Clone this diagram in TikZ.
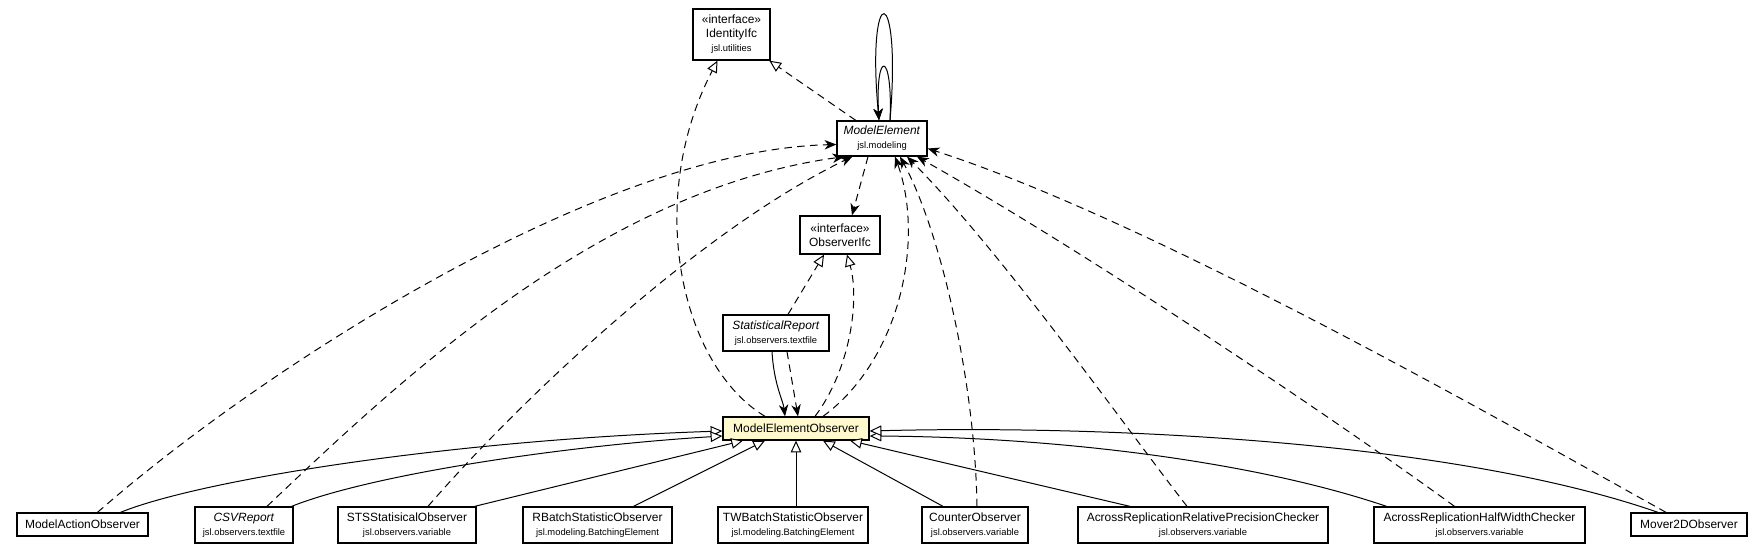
\documentclass[tikz,border=0pt]{standalone}
\usepackage{fontspec}
\setmainfont{Liberation Sans}
\usetikzlibrary{arrows.meta, calc}
\definecolor{obsfill}{RGB}{255,250,205}
\newcommand{\pkgname}[1]{{\fontsize{8}{9}\selectfont #1}}
\tikzset{
  % class boxes
  classbox/.style={rectangle, draw=black, line width=1.1pt, fill=#1, align=center, inner sep=1pt, font=\fontsize{10.2}{12}\selectfont},
  classbox/.default={white},
  % connectors
  realize/.style={line width=0.85pt, dash pattern=on 6.5pt off 4.5pt, -{Triangle[length=10pt, width=9pt, fill=white]}},
  inherit/.style={line width=0.85pt, -{Triangle[length=10pt, width=9pt, fill=white]}},
  depend/.style={line width=0.85pt, dash pattern=on 6.5pt off 4.5pt, -{Stealth[length=10pt, width=8pt, inset=3pt]}},
  navassoc/.style={line width=0.85pt, -{Stealth[length=10pt, width=8pt, inset=3pt]}},
}

\begin{document}
\begin{tikzpicture}[x=0.03cm, y=-0.03cm]
    \useasboundingbox (0,0) rectangle (1763,555);

    % Upper classes
    \node[classbox, minimum width=2.31cm, minimum height=1.53cm] (identity) at (731.5,34.5) {«interface»\\IdentityIfc\\\pkgname{jsl.utilities}};
    \node[classbox, minimum width=2.7cm, minimum height=1.05cm] (me) at (882,138.5) {\textit{ModelElement}\\\pkgname{jsl.modeling}};
    \node[classbox, minimum width=2.4cm, minimum height=1.14cm] (obs) at (840,235) {«interface»\\ObserverIfc};
    \node[classbox, minimum width=3.18cm, minimum height=1.08cm] (sr) at (776,333) {\textit{StatisticalReport}\\\pkgname{jsl.observers.textfile}};

    % Focus class
    \node[classbox=obsfill, minimum width=4.38cm, minimum height=0.69cm] (meo) at (796,428.5) {ModelElementObserver};

    % Subclasses
    \node[classbox, minimum width=3.93cm, minimum height=0.69cm] (mao) at (82.5,524.5) {ModelActionObserver};
    \node[classbox, minimum width=2.94cm, minimum height=1.08cm] (csv) at (244,525) {\textit{CSVReport}\\\pkgname{jsl.observers.textfile}};
    \node[classbox, minimum width=4.14cm, minimum height=1.08cm] (sts) at (407,525) {STSStatisicalObserver\\\pkgname{jsl.observers.variable}};
    \node[classbox, minimum width=4.47cm, minimum height=1.08cm] (rbatch) at (597.5,525) {RBatchStatisticObserver\\\pkgname{jsl.modeling.BatchingElement}};
    \node[classbox, minimum width=4.5cm, minimum height=1.08cm] (twbatch) at (793,525) {TWBatchStatisticObserver\\\pkgname{jsl.modeling.BatchingElement}};
    \node[classbox, minimum width=3.18cm, minimum height=1.08cm] (counter) at (975,525) {CounterObserver\\\pkgname{jsl.observers.variable}};
    \node[classbox, minimum width=7.5cm, minimum height=1.08cm] (arrpc) at (1203,525) {AcrossReplicationRelativePrecisionChecker\\\pkgname{jsl.observers.variable}};
    \node[classbox, minimum width=6.33cm, minimum height=1.08cm] (arhwc) at (1479.5,525) {AcrossReplicationHalfWidthChecker\\\pkgname{jsl.observers.variable}};
    \node[classbox, minimum width=3.48cm, minimum height=0.69cm] (mover) at (1689,524.5) {Mover2DObserver};

    % === Upper connectors ===
    \draw[realize] (me) -- (identity);
    \draw[realize] ($(meo.north)+(-31,0)$) .. controls (680,365) and (645,200) .. ($(identity.south)+(-14,0)$);
    \draw[navassoc] ($(me.north)+(8,0)$) .. controls +(12,-141) and +(-13,-141) .. ($(me.north)+(-3,0)$);
    \draw[navassoc] ($(me.north)+(8,0)$) .. controls +(3,-71) and +(-4,-71) .. ($(me.north)+(-3,0)$);
    \draw[depend] ($(me.south)+(-14,0)$) -- ($(obs.north)+(12,0)$);
    \draw[realize] ($(sr.north)+(12,0)$) -- ($(obs.south)+(-16,0)$);
    \draw[realize] ($(meo.north)+(19,0)$) .. controls (850,370) and (860,300) .. ($(obs.south)+(7,0)$);
    \draw[depend] ($(meo.north)+(27,0)$) .. controls (900,360) and (925,240) .. ($(me.south)+(13,0)$);
    \draw[navassoc] ($(sr.south)+(-4,0)$) .. controls (774,385) and (783,400) .. ($(meo.north)+(-11,0)$);
    \draw[depend] ($(sr.south)+(11,0)$) -- ($(meo.north)+(2,0)$);

    % === Generalizations ===
    \draw[inherit] ($(mao.north)+(38,0)$) .. controls (200,480) and (450,440) .. ($(meo.west)+(0,2.5)$);
    \draw[inherit] ($(csv.north east)+(-2,0)$) .. controls (370,475) and (560,446) .. ($(meo.west)+(0,7.5)$);
    \draw[inherit] ($(sts.north east)+(-2,0)$) -- ($(meo.south)+(-53,0)$);
    \draw[inherit] ($(rbatch.north)+(36,0)$) -- ($(meo.south)+(-31,0)$);
    \draw[inherit] (meo.south |- twbatch.north) -- (meo.south);
    \draw[inherit] ($(counter.north)+(-32,0)$) -- ($(meo.south)+(27,0)$);
    \draw[inherit] ($(arrpc.north)+(-73,0)$) -- ($(meo.south)+(54,0)$);
    \draw[inherit] ($(arhwc.north)+(-93,0)$) .. controls (1250,460) and (1050,437) .. ($(meo.east)+(0,7.5)$);
    \draw[inherit] ($(mover.north)+(-31,0)$) .. controls (1450,440) and (1100,425) .. ($(meo.east)+(0,2.5)$);

    % === Dependencies on ModelElement ===
    \draw[depend] ($(mao.north)+(15,0)$) .. controls (260,370) and (600,150) .. ($(me.west)+(0,6)$);
    \draw[depend] ($(csv.north)+(23,0)$) .. controls (400,380) and (600,190) .. ($(me.south west)+(8,0)$);
    \draw[depend] ($(sts.north)+(21,0)$) .. controls (520,400) and (700,230) .. ($(me.south west)+(16,0)$);
    \draw[depend] ($(counter.north)+(2,0)$) .. controls (975,380) and (940,230) .. ($(me.south)+(18,0)$);
    \draw[depend] ($(arrpc.north)+(-16,0)$) .. controls (1120,420) and (1000,250) .. ($(me.south)+(25,0)$);
    \draw[depend] ($(arhwc.north)+(-25,0)$) .. controls (1350,430) and (1100,260) .. ($(me.south)+(35,0)$);
    \draw[depend] ($(mover.north)+(-23,0)$) .. controls (1500,420) and (1150,220) .. ($(me.east)+(0,10)$);
\end{tikzpicture}
\end{document}
